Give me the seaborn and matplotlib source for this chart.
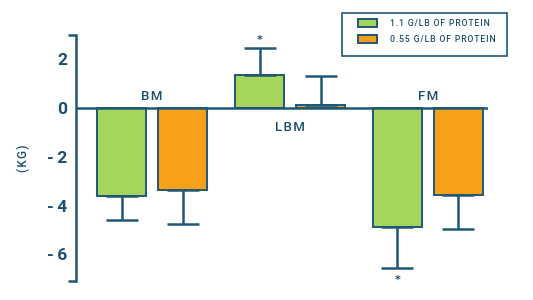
import matplotlib
matplotlib.use("Agg")
import matplotlib.pyplot as plt
from matplotlib.patches import Rectangle
import seaborn as sns
import pandas as pd
import numpy as np

categories = ["BM", "LBM", "FM"]
series = ["1.1 G/LB OF PROTEIN", "0.55 G/LB OF PROTEIN"]
high_protein = [-3.63, 1.36, -4.89]
low_protein = [-3.35, 0.13, -3.55]
high_err = [0.97, 1.10, 1.66]
low_err = [1.40, 1.19, 1.40]
significant_high = [False, True, True]
yticks = [2, 0, -2, -4, -6]
ytick_labels = ["2", "0", "-\u20092", "-\u20094", "-\u20096"]

GREEN = "#a6d55b"
ORANGE = "#f9a01b"
DARK = "#1f5877"
TEXT = "#1c4f6d"
HS = "\u200a"


def spaced(s):
    return HS.join(s)


rows = []
for c, v in zip(categories, high_protein):
    rows.append({"cat": c, "series": series[0], "val": v})
for c, v in zip(categories, low_protein):
    rows.append({"cat": c, "series": series[1], "val": v})
df = pd.DataFrame(rows)

sns.set_theme(style="white")
plt.rcParams["font.family"] = ["Roboto", "DejaVu Sans"]

fig = plt.figure(figsize=(5.33, 3.0), dpi=100)
ax = fig.add_axes([0.1426, 0.0633, 0.773, 0.82])

sns.barplot(data=df, x="cat", y="val", hue="series", order=categories,
            hue_order=series, palette=[GREEN, ORANGE], width=0.884, gap=0.2,
            edgecolor=DARK, linewidth=1.4, errorbar=None, legend=True, ax=ax,
            saturation=1)

bars = list(ax.patches)[:6]
errs = high_err + low_err
vals = high_protein + low_protein
stars = significant_high + [False] * 3
for p, e, v, s in zip(bars, errs, vals, stars):
    xc = p.get_x() + p.get_width() / 2
    yerr = [[e], [0]] if v < 0 else [[0], [e]]
    ax.errorbar([xc], [v], yerr=yerr, fmt="none", ecolor=DARK, elinewidth=1.8,
                capsize=11.5, capthick=1.8, zorder=1)
    if s:
        end = v - e if v < 0 else v + e
        off = -9 if v < 0 else 6
        ax.annotate("*", (xc, end), xytext=(0, off), textcoords="offset points",
                    ha="center", va="center", color=TEXT, fontsize=8,
                    fontweight="bold", family="DejaVu Sans")

ax.axhline(0, color=DARK, lw=1.8, zorder=3)

for i, (c, v) in enumerate(zip(categories, high_protein)):
    if v < 0:
        ax.annotate(spaced(c), (i, 0), xytext=(0, 4), textcoords="offset points",
                    ha="center", va="bottom", color=TEXT, fontsize=9.5,
                    fontweight="medium")
    else:
        ax.annotate(spaced(c), (i, 0), xytext=(0, -9), textcoords="offset points",
                    ha="center", va="top", color=TEXT, fontsize=9.5,
                    fontweight="medium")

ax.set_xlim(-0.551, 2.435)
ax.set_ylim(-7.1, 3.0)
ax.set_yticks(yticks)
ax.set_yticklabels(ytick_labels)
ax.set_yticks([-7.1, 3.0], minor=True)
ax.tick_params(axis="y", which="major", length=0, pad=6.5, labelsize=12.5,
               labelcolor=TEXT)
ax.tick_params(axis="y", which="minor", length=6, width=1.8, color=DARK, left=True)
for lab in ax.get_yticklabels():
    lab.set_fontweight("bold")
ax.set_xticks([])
ax.set_xlabel("")
ax.set_ylabel(spaced("(KG)"), color=TEXT, fontsize=8.5, fontweight="medium")
ax.yaxis.set_label_coords(-0.112, 0.5)
for sp in ["top", "right", "bottom"]:
    ax.spines[sp].set_visible(False)
ax.spines["left"].set_color(DARK)
ax.spines["left"].set_linewidth(1.8)

handles, labels = ax.get_legend_handles_labels()
ax.get_legend().remove()
leg = fig.legend(handles, [spaced(l) for l in labels], loc="upper left",
                 bbox_to_anchor=(358 / 533, 1 - 19 / 300),
                 frameon=False, fontsize=6.2, handlelength=2.2, handleheight=1.05,
                 handletextpad=1.5, borderpad=0, labelspacing=0.85,
                 borderaxespad=0)
for t in leg.get_texts():
    t.set_color(TEXT)
    t.set_fontweight("medium")
fig.patches.append(Rectangle((342 / 533, 1 - 56 / 300), 165 / 533, 43 / 300,
                             transform=fig.transFigure, fill=False,
                             edgecolor=DARK, linewidth=1.2))

fig.savefig("out.png", dpi=100)
